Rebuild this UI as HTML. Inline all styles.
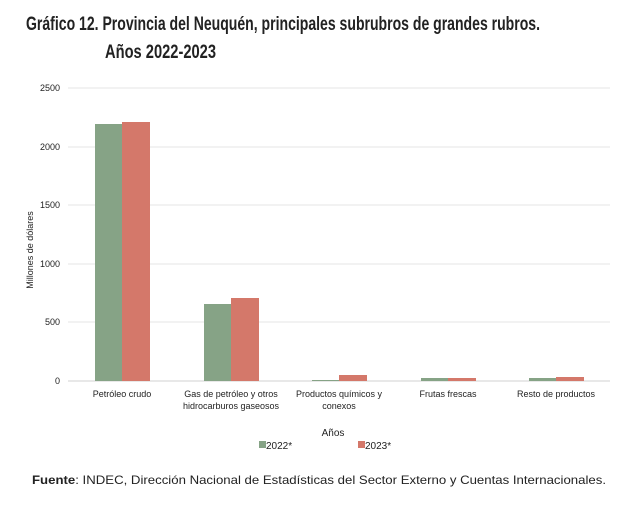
<!DOCTYPE html>
<html><head><meta charset="utf-8"><style>
body{margin:0;background:#fff;width:631px;height:526px;overflow:hidden;font-family:"Liberation Sans",sans-serif}
</style></head><body>
<svg width="631" height="526" xmlns="http://www.w3.org/2000/svg" font-family="Liberation Sans, sans-serif">
<text x="26" y="30" font-family="Liberation Sans Narrow, Liberation Sans, sans-serif" font-weight="bold" font-size="19" fill="#222" textLength="514" lengthAdjust="spacingAndGlyphs">Gráfico 12. Provincia del Neuquén, principales subrubros de grandes rubros.</text>
<text x="105" y="58" font-family="Liberation Sans Narrow, Liberation Sans, sans-serif" font-weight="bold" font-size="19" fill="#222" textLength="111" lengthAdjust="spacingAndGlyphs">Años 2022-2023</text>
<g stroke="#e6e6e6" stroke-width="1">
<line x1="68" x2="610" y1="88" y2="88"/><line x1="68" x2="610" y1="147" y2="147"/><line x1="68" x2="610" y1="205" y2="205"/><line x1="68" x2="610" y1="264" y2="264"/><line x1="68" x2="610" y1="322" y2="322"/>
</g>
<line x1="68" x2="610" y1="381" y2="381" stroke="#d0d0d0"/>
<g font-size="9" fill="#222" text-anchor="end">
<text x="60" y="91">2500</text><text x="60" y="150">2000</text><text x="60" y="208">1500</text><text x="60" y="267">1000</text><text x="60" y="325">500</text><text x="60" y="384">0</text>
</g>
<text transform="translate(33,250) rotate(-90)" font-size="9" text-anchor="middle" fill="#222">Millones de dólares</text>
<g fill="#86a386">
<rect x="95" y="124" width="27" height="257"/><rect x="204" y="304" width="27" height="77"/><rect x="312" y="380" width="27" height="1"/><rect x="421" y="378" width="27" height="3"/><rect x="529" y="378" width="27" height="3"/>
</g>
<g fill="#d4786a">
<rect x="122" y="122" width="28" height="259"/><rect x="231" y="298" width="28" height="83"/><rect x="339" y="375" width="28" height="6"/><rect x="448" y="378" width="28" height="3"/><rect x="556" y="377" width="28" height="4"/>
</g>
<g font-size="9" fill="#222" text-anchor="middle">
<text x="122" y="397">Petróleo crudo</text>
<text x="231" y="397">Gas de petróleo y otros</text><text x="231" y="409">hidrocarburos gaseosos</text>
<text x="339" y="397">Productos químicos y</text><text x="339" y="409">conexos</text>
<text x="448" y="397">Frutas frescas</text>
<text x="556" y="397">Resto de productos</text>
<text x="333" y="436" font-size="10">Años</text>
</g>
<rect x="259" y="441" width="7" height="7" fill="#86a386"/>
<text x="266" y="449" font-size="10" fill="#222">2022*</text>
<rect x="358" y="441" width="7" height="7" fill="#d4786a"/>
<text x="365" y="449" font-size="10" fill="#222">2023*</text>
<text x="32" y="484" font-size="12" fill="#222" textLength="574" lengthAdjust="spacingAndGlyphs"><tspan font-weight="bold">Fuente</tspan>: INDEC, Dirección Nacional de Estadísticas del Sector Externo y Cuentas Internacionales.</text>
</svg>
</body></html>
